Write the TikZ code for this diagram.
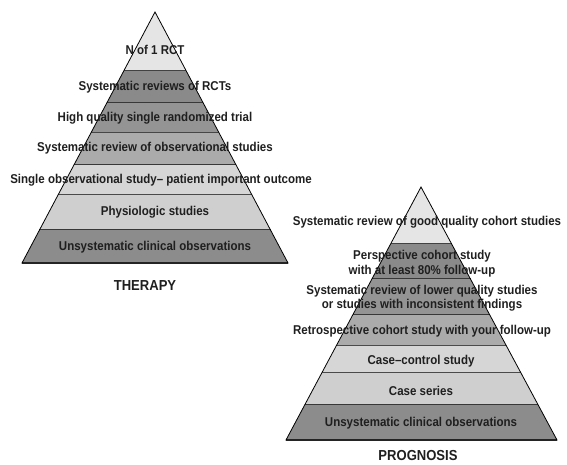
\documentclass[tikz,border=0pt]{standalone}
\usepackage{fontspec}
\setmainfont{Liberation Sans}[FakeStretch=0.9]
\usetikzlibrary{positioning}
\usetikzlibrary{calc}

\newcommand{\band}[4]{%
  \fill[#4] ($(#1a)!#2!(#1l)$) -- ($(#1a)!#3!(#1l)$) -- ($(#1a)!#3!(#1r)$) -- ($(#1a)!#2!(#1r)$) -- cycle;
  \draw[sep] ($(#1a)!#3!(#1l)$) -- ($(#1a)!#3!(#1r)$);}

\begin{document}
\begin{tikzpicture}[x=1pt,y=-1pt,
    sep/.style={draw=black!78, line width=1.4pt},
    outline/.style={draw=black, line width=0.8pt},
    lbl/.style={font=\bfseries\fontsize{12.8}{14.5}\selectfont, text=black!88, inner sep=0pt, align=center},
    title/.style={font=\bfseries\fontsize{14.5}{16}\selectfont, text=black!88, inner sep=0pt}]
		\useasboundingbox (0,0) rectangle (567,465);
		\coordinate (ta) at (155,12);
		\coordinate (tl) at (22,263);
		\coordinate (tr) at (288,263);
		\coordinate (pa) at (421,187);
		\coordinate (pl) at (286,440);
		\coordinate (pr) at (557,440);
		\band{t}{0}{0.235}{black!10}
		\band{t}{0.235}{0.363}{black!46}
		\band{t}{0.363}{0.482}{black!42}
		\band{t}{0.482}{0.610}{black!33}
		\band{t}{0.610}{0.729}{black!16}
		\band{t}{0.729}{0.869}{black!19}
		\band{t}{0.869}{1}{black!45}
		\draw[outline] (ta) -- (tl) -- (tr) -- cycle;
		\band{p}{0}{0.225}{black!10}
		\band{p}{0.225}{0.364}{black!46}
		\band{p}{0.364}{0.506}{black!42}
		\band{p}{0.506}{0.628}{black!33}
		\band{p}{0.628}{0.735}{black!16}
		\band{p}{0.735}{0.862}{black!19}
		\band{p}{0.862}{1}{black!45}
		\draw[outline] (pa) -- (pl) -- (pr) -- cycle;
		\node (n1) [lbl] at (155,50) {N of 1 RCT};
		\node (srr) [lbl] at (155,87) {Systematic reviews of RCTs};
		\node (hq) [lbl] at (155,118) {High quality single randomized trial};
		\node (sro) [lbl] at (155,148) {Systematic review of observational studies};
		\node (so) [lbl] at (161,180) {Single observational study– patient important outcome};
		\node (phys) [lbl] at (155,212) {Physiologic studies};
		\node (uco) [lbl] at (155,247) {Unsystematic clinical observations};
		\node (ther) [title, below=27pt of uco, xshift=-10pt] {THERAPY};
		\node (srg) [lbl] at (427,222) {Systematic review of good quality cohort studies};
		\node (pcs) [lbl] at (422,263.5) {Perspective cohort study\\with at least 80\% follow-up};
		\node (srl) [lbl] at (422,298) {Systematic review of lower quality studies\\or studies with inconsistent findings};
		\node (rcs) [lbl] at (422,331) {Retrospective cohort study with your follow-up};
		\node (cc) [lbl] at (421,361) {Case–control study};
		\node (cs) [lbl] at (421,391) {Case series};
		\node (puco) [lbl] at (421,423) {Unsystematic clinical observations};
		\node (prog) [title, below=21pt of puco, xshift=-3pt] {PROGNOSIS};
\end{tikzpicture}
\end{document}
